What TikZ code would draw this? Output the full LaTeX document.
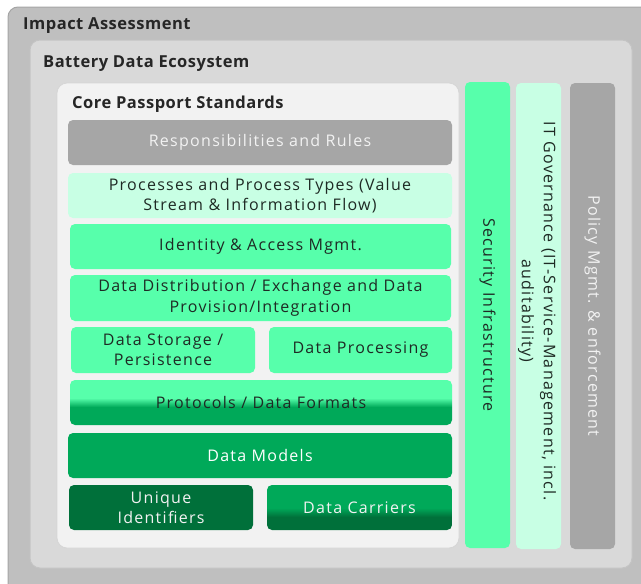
\documentclass[tikz,border=0pt]{standalone}
\usepackage{fontspec}
\setmainfont{Open Sans}
\newfontfamily\boxfont[LetterSpace=8]{Open Sans}
\newfontfamily\titlefont[LetterSpace=3]{Open Sans}
\usetikzlibrary{calc}
\definecolor{outerg}{HTML}{BFBFBF}
\definecolor{outerb}{HTML}{A5A5A5}
\definecolor{midg}{HTML}{D9D9D9}
\definecolor{midb}{HTML}{C4C4C4}
\definecolor{coreg}{HTML}{F2F2F2}
\definecolor{coreb}{HTML}{D6D6D6}
\definecolor{lgreen}{HTML}{57FFAB}
\definecolor{pgreen}{HTML}{C8FFE4}
\definecolor{mgreen}{HTML}{00A959}
\definecolor{dgreen}{HTML}{00703A}
\definecolor{bgray}{HTML}{A6A6A6}
\definecolor{txt}{HTML}{1E2A24}
\definecolor{wtxt}{HTML}{F2F2F2}
\pgfdeclareverticalshading{protoshade}{100bp}{color(0bp)=(mgreen); color(45bp)=(mgreen); color(55bp)=(lgreen); color(100bp)=(lgreen)}
\pgfdeclareverticalshading{carriershade}{100bp}{color(0bp)=(dgreen); color(39.5bp)=(dgreen); color(49.5bp)=(mgreen); color(100bp)=(mgreen)}
\begin{document}
\begin{tikzpicture}[x=1pt,y=-1pt,
  cont/.style={rounded corners=10pt, line width=1pt},
  blk/.style={rounded corners=5pt, inner sep=0pt, align=center, text=txt,
    font=\boxfont\fontsize{16}{20.5}\selectfont},
  ttl/.style={anchor=base west, inner sep=0pt, font=\titlefont\fontsize{16.5}{18}\selectfont\bfseries, text=black!85},
  vert/.style={rotate=-90, inner sep=0pt, align=center, font=\boxfont\fontsize{16}{22}\selectfont}
]
\useasboundingbox (0,0) rectangle (641,584);
\clip (0,0) rectangle (641,584);
\fill[white] (0,0) rectangle (641,584);
% containers
\draw[cont, fill=outerg, draw=outerb] (8,7) rectangle (680,640);
\draw[cont, fill=midg, draw=midb] (30,40) rectangle (632,568);
\draw[cont, fill=coreg, draw=coreb, line width=0.8pt] (57,83) rectangle (459,548);
\node[ttl] (tia) at (23,29) {Impact Assessment};
\node[ttl] (tbde) at (43,67) {Battery Data Ecosystem};
\node[ttl] (tcps) at (72,108) {Core Passport Standards};
% core blocks
\node[blk, fill=bgray, text=wtxt, minimum width=384pt, minimum height=45pt] (rr) at (260,142.5) {Responsibilities and Rules};
\node[blk, fill=pgreen, minimum width=384pt, minimum height=45pt] (pp) at (260,195.5) {Processes and Process Types (Value\\Stream \& Information Flow)};
\node[blk, fill=lgreen, minimum width=381pt, minimum height=45pt] (iam) at (260.5,246.5) {Identity \& Access Mgmt.};
\node[blk, fill=lgreen, minimum width=381pt, minimum height=46pt] (dd) at (260.5,298) {Data Distribution / Exchange and Data\\Provision/Integration};
\node[blk, fill=lgreen, minimum width=184pt, minimum height=46pt] (ds) at (163,350) {Data Storage /\\Persistence};
\node[blk, fill=lgreen, minimum width=183pt, minimum height=46pt] (dp) at (360.5,350) {Data Processing};
\node[blk, shading=protoshade, minimum width=382pt, minimum height=45pt] (pdf) at (261,402.5) {Protocols / Data Formats};
\node[blk, fill=mgreen, text=white, minimum width=384pt, minimum height=45pt] (dm) at (260,455.5) {Data Models};
\node[blk, fill=dgreen, text=wtxt, minimum width=184pt, minimum height=45pt] (ui) at (161,507.5) {Unique\\Identifiers};
\node[blk, shading=carriershade, text=wtxt, minimum width=185pt, minimum height=45pt] (dc) at (359.5,507.5) {Data Carriers};
% vertical columns
\fill[lgreen, rounded corners=5pt] (465,82) rectangle (510,548);
\node[vert, text=txt] (si) at (487.5,315) {Security Infrastructure};
\fill[pgreen, rounded corners=5pt] (516,83) rectangle (561,549);
\node[vert, text=txt] (itg) at (537,311) {IT Governance (IT-Service-Management, incl.\\auditability)};
\fill[bgray, rounded corners=5pt] (570,83) rectangle (615,549);
\node[vert, text=wtxt] (pme) at (592.5,316) {Policy Mgmt. \& enforcement};
\end{tikzpicture}
\end{document}
